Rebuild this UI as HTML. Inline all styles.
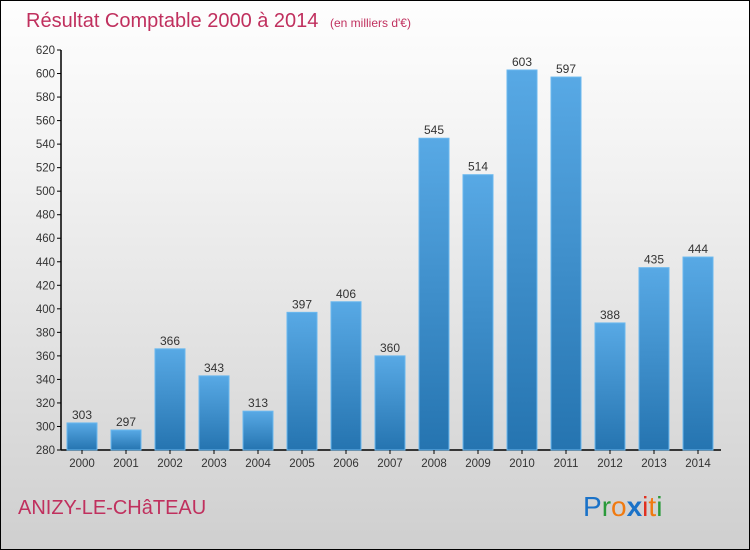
<!DOCTYPE html>
<html><head><meta charset="utf-8"><style>
body{margin:0}
#c{position:relative;width:748px;height:548px;border:1px solid #000;background:linear-gradient(#fefefe,#f2f2f2 30%,#cfcfcf);font-family:"Liberation Sans",sans-serif;overflow:hidden}
</style></head><body>
<div id="c">
<svg width="748" height="548" style="position:absolute;left:0;top:0">
<defs><linearGradient id="g" x1="0" y1="0" x2="0" y2="1"><stop offset="0" stop-color="#58a9e5"/><stop offset="1" stop-color="#2574b0"/></linearGradient></defs>
<text x="25" y="26" font-size="20" fill="#c0305e">Résultat Comptable 2000 à 2014 <tspan font-size="12" dx="6">(en milliers d'€)</tspan></text>
<g id="plot"></g>
<text x="17" y="513" font-size="20" fill="#c0305e">ANIZY-LE-CHâTEAU</text>
<text x="582" y="515" font-size="28"><tspan fill="#1a72c8">P</tspan><tspan fill="#2a9a3a">r</tspan><tspan fill="#f07a10">o</tspan><tspan fill="#1a72c8" font-weight="bold">x</tspan><tspan fill="#e03020">i</tspan><tspan fill="#f07a10">t</tspan><tspan fill="#2a9a3a">i</tspan></text>
</svg>
</div>
<script>
const years=["2000","2001","2002","2003","2004","2005","2006","2007","2008","2009","2010","2011","2012","2013","2014"];
const values=[303,297,366,343,313,397,406,360,545,514,603,597,388,435,444];
const ticks=[280,300,320,340,360,380,400,420,440,460,480,500,520,540,560,580,600,620];
const NS="http://www.w3.org/2000/svg";
const g=document.getElementById('plot');
const y=v=>449-(v-280)*(400/340);
const x=i=>81+44*i;
function mk(t,a){const e=document.createElementNS(NS,t);for(const k in a)e.setAttribute(k,a[k]);g.appendChild(e);return e;}
let ax=mk('line',{x1:60,y1:y(620),x2:60,y2:449,stroke:'#000','stroke-width':1.5});


let bx=mk('line',{x1:60,y1:449,x2:720,y2:449,stroke:'#000','stroke-width':1.5});


ticks.forEach(t=>{
 mk('line',{x1:56,x2:60,y1:y(t),y2:y(t),stroke:'#000'});
 const l=mk('text',{x:54,y:y(t)+4,'text-anchor':'end','font-size':11.5,fill:'#333'});l.textContent=t;
 
 
});
years.forEach((yr,i)=>{
 const v=values[i];
 const r=mk('rect',{x:x(i)-15,y:y(v),width:30,height:449-y(v),fill:'url(#g)',stroke:'#6ab8ef','stroke-width':1});
 
 
 const lv=mk('text',{x:x(i),y:y(v)-4,'text-anchor':'middle','font-size':12,fill:'#333'});lv.textContent=v;
 
 
 mk('line',{x1:x(i),x2:x(i),y1:449,y2:453,stroke:'#000'});
 const lx=mk('text',{x:x(i),y:466,'text-anchor':'middle','font-size':11.5,fill:'#333'});lx.textContent=yr;
 
 
});
</script>
</body></html>
